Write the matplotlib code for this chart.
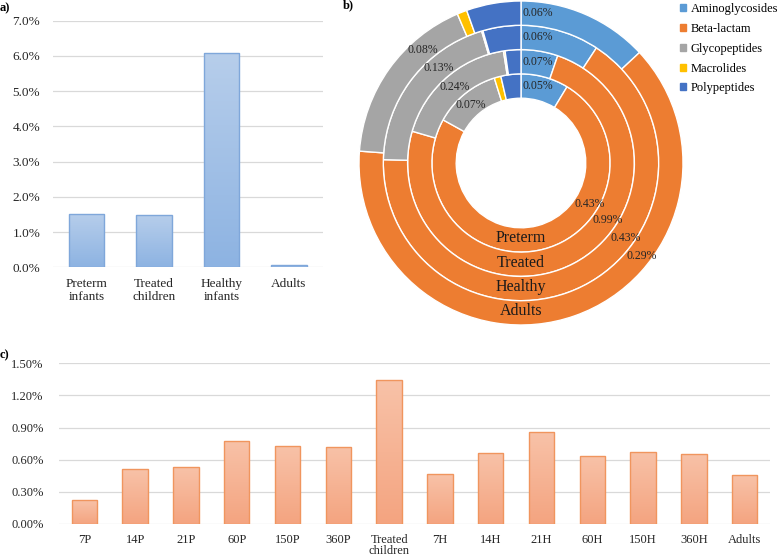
import matplotlib
matplotlib.use("Agg")
import matplotlib.pyplot as plt
import numpy as np
from matplotlib.colors import LinearSegmentedColormap

plt.rcParams["font.family"] = ["Liberation Serif", "DejaVu Serif"]

# panel a: total abundance per group (%)
groups_a = ["Preterm\ninfants", "Treated\nchildren", "Healthy\ninfants", "Adults"]
values_a = [1.52, 1.476, 6.07, 0.065]

# panel b: antibiotic classes per ring (%)
classes = ["Aminoglycosides", "Beta-lactam", "Glycopeptides", "Macrolides", "Polypeptides"]
class_colors = ["#5B9BD5", "#ED7D31", "#A5A5A5", "#FFC000", "#4472C4"]
rings = ["Preterm", "Treated", "Healthy", "Adults"]
amino = [0.05, 0.07, 0.06, 0.06]
beta = [0.43, 0.99, 0.43, 0.29]
glyco = [0.07, 0.24, 0.13, 0.08]
macro = [0.007, 0.003, 0.001, 0.0045]
poly = [0.021, 0.03, 0.029, 0.025]

# panel c: per time point (%)
groups_c = ["7P", "14P", "21P", "60P", "150P", "360P", "Treated\nchildren",
            "7H", "14H", "21H", "60H", "150H", "360H", "Adults"]
values_c = [0.224, 0.51, 0.532, 0.775, 0.725, 0.722, 1.342,
            0.464, 0.66, 0.856, 0.632, 0.675, 0.656, 0.455]


def gradient_bars(ax, bars, top, bottom):
    cmap = LinearSegmentedColormap.from_list("g", [bottom, top])
    grad = np.linspace(0, 1, 128).reshape(-1, 1)
    for b in bars:
        x, y = b.get_xy()
        w, h = b.get_width(), b.get_height()
        im = ax.imshow(grad, extent=[x, x + w, y, y + h], origin="lower",
                       cmap=cmap, aspect="auto", zorder=2.5)
        im.set_clip_path(b)


def style_axes(ax):
    for s in ax.spines.values():
        s.set_visible(False)
    ax.yaxis.grid(True, color="#D9D9D9", linewidth=0.9)
    ax.set_axisbelow(True)
    ax.tick_params(axis="both", length=0, colors="#262626")


fig = plt.figure(figsize=(7.77, 5.58), dpi=100)

# ---- a)
ax_a = fig.add_axes([0.0679, 0.521, 0.3475, 0.442])
xa = np.arange(len(groups_a))
bars = ax_a.bar(xa, values_a, width=0.52, facecolor="none",
                edgecolor="#7FA7DA", linewidth=1.0, zorder=3)
gradient_bars(ax_a, bars, "#B7CEEB", "#8DB3E2")
ax_a.set_xlim(-0.5, len(groups_a) - 0.5)
ax_a.set_ylim(0, 7)
ax_a.set_yticks(np.arange(0, 7.1, 1))
ax_a.set_yticklabels(["%.1f%%" % v for v in np.arange(0, 7.1, 1)], fontsize=9.5)
ax_a.set_xticks(xa)
ax_a.set_xticklabels(groups_a, fontsize=9.5, linespacing=1.05)
style_axes(ax_a)
ax_a.tick_params(axis="y", pad=9)
ax_a.tick_params(axis="x", pad=8)
fig.text(0.0, 0.985, "a)", fontsize=9, fontweight="bold", va="center")

# ---- b)
R = 165 / 162
ax_b = fig.add_axes([356 / 777, 1 - 328 / 558, 330 / 777, 330 / 558])
width = 0.15
for i, name in enumerate(rings):
    vals = [amino[i], beta[i], glyco[i], macro[i], poly[i]]
    ax_b.pie(vals, radius=0.40 + width * (i + 1), colors=class_colors,
             startangle=90, counterclock=False,
             wedgeprops=dict(width=width, edgecolor="white", linewidth=1.0))
    mid = 0.40 + width * (i + 0.5)
    ax_b.text(0.012, mid, "%.2f%%" % amino[i], fontsize=8.5, ha="left",
              va="center", color="#262626")
    ang = np.deg2rad(90 - (122 + 2.2 * i))
    ax_b.text(mid * np.cos(ang) + 0.02, mid * np.sin(ang), "%.2f%%" % beta[i],
              fontsize=8.5, ha="center", va="center", color="#262626")
    ang = np.deg2rad(90 - 319)
    ax_b.text(mid * np.cos(ang), mid * np.sin(ang), "%.2f%%" % glyco[i],
              fontsize=8.5, ha="center", va="center", color="#262626")
    ax_b.text(0, -mid + 0.01, name, fontsize=11.5, ha="center", va="center",
              color="#1a1a1a")
ax_b.set_xlim(-R, R)
ax_b.set_ylim(-R, R)
ax_b.set_aspect("equal")
ax_b.axis("off")
fig.text(343 / 777, 1 - 5 / 558, "b)", fontsize=9, fontweight="bold", va="center")

handles = [plt.Rectangle((0, 0), 1, 1, color=c) for c in class_colors]
fig.legend(handles, classes, loc="upper left", bbox_to_anchor=(670 / 777, 1.012),
           frameon=False, fontsize=9, handlelength=0.5, handleheight=0.5,
           handletextpad=0.35, labelspacing=0.62, borderpad=0.3)

# ---- c)
ax_c = fig.add_axes([59 / 777, 1 - 524 / 558, 711 / 777, 160.7 / 558])
xc = np.arange(len(groups_c))
bars = ax_c.bar(xc, values_c, width=0.5, facecolor="none",
                edgecolor="#F0955E", linewidth=1.0, zorder=3)
gradient_bars(ax_c, bars, "#F8C2A8", "#F4A480")
ax_c.set_xlim(-0.5, len(groups_c) - 0.5)
ax_c.set_ylim(0, 1.5)
yt = np.arange(0, 1.51, 0.3)
ax_c.set_yticks(yt)
ax_c.set_yticklabels(["%.2f%%" % v for v in yt], fontsize=9)
ax_c.set_xticks(xc)
ax_c.set_xticklabels(groups_c, fontsize=9, linespacing=0.9)
style_axes(ax_c)
ax_c.tick_params(axis="y", pad=11)
ax_c.tick_params(axis="x", pad=7)
fig.text(0.0, 1 - 355 / 558, "c)", fontsize=9, fontweight="bold", va="center")

fig.savefig("out.png", dpi=100)
